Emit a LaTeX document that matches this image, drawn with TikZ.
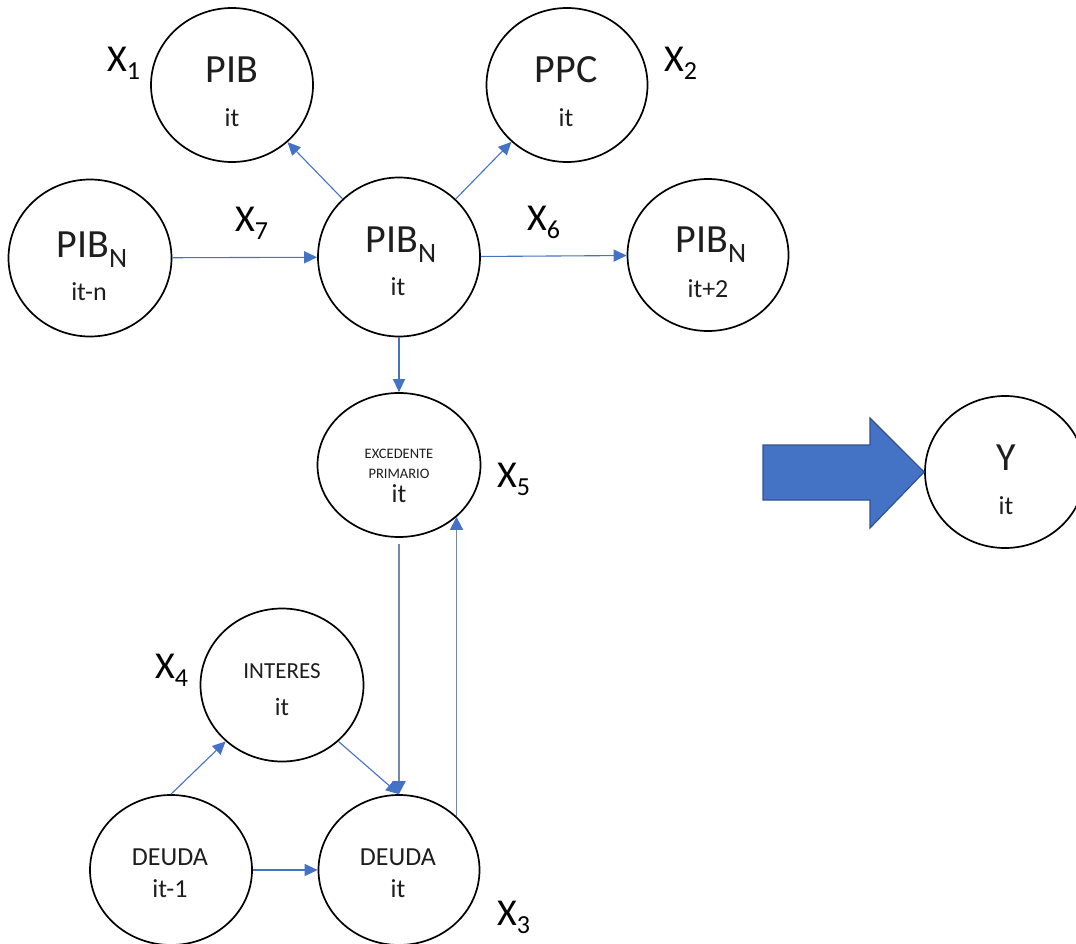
\documentclass[tikz,border=0pt]{standalone}
\usepackage{fontspec}
\setmainfont{Carlito}
\usetikzlibrary{arrows.meta,calc,shapes.geometric}
\definecolor{linkblue}{RGB}{68,114,196}
\definecolor{linkgrey}{RGB}{120,136,172}
\definecolor{arrowedge}{RGB}{47,82,143}
\definecolor{ink}{RGB}{30,30,30}
\newcommand{\fs}[1]{\fontsize{#1}{#1}\selectfont}
\newcommand{\varx}[1]{X\raisebox{-8pt}{\fs{26}#1}}
\newcommand{\pibn}{PIB\raisebox{-10pt}{\fs{28}N}}
\tikzset{
  var/.style={draw=black, line width=1.7pt, ellipse, inner sep=0pt, fill=white},
  txt/.style={anchor=base, inner sep=0pt, text=ink},
  big/.style={txt, font=\fs{40}},
  sub/.style={txt, font=\fs{26}},
  mid/.style={txt, font=\fs{26}},
  tiny/.style={txt, font=\fs{14.5}},
  xlab/.style={anchor=base west, inner sep=0pt, text=black, font=\fs{38}},
  link/.style={draw=linkblue, line width=1.1pt, -{Triangle[length=13pt,width=12pt]}},
  glink/.style={draw=linkgrey, line width=1.9pt, -{Triangle[length=13pt,width=13pt,fill=linkblue,color=linkblue]}},
  fat/.style={fill=linkblue, draw=arrowedge, line width=1.2pt, line join=miter}
}
\begin{document}
\begin{tikzpicture}[x=1pt, y=-1pt]
\useasboundingbox (0,0) rectangle (1076,944);

% circles
\node[var, minimum width=162pt, minimum height=154pt] (pib)  at (232,85)  {};
\node[var, minimum width=161pt, minimum height=154pt] (ppc)  at (567,85)  {};
\node[var, minimum width=163pt, minimum height=157pt] (pnlag) at (90,258) {};
\node[var, minimum width=162pt, minimum height=159pt] (pn)   at (399,257) {};
\node[var, minimum width=161pt, minimum height=152pt] (pnld) at (708,255) {};
\node[var, minimum width=163pt, minimum height=144pt] (exc)  at (399,465) {};
\node[var, minimum width=160pt, minimum height=152pt] (yv)   at (1005,472) {};
\node[var, minimum width=163pt, minimum height=153pt] (int)  at (282,685) {};
\node[var, minimum width=162pt, minimum height=150pt] (dlag) at (171,870) {};
\node[var, minimum width=161pt, minimum height=150pt] (deu)  at (399,870) {};

% texts inside the circles
\node[big] (t-pib)   at (232,83)  {PIB};
\node[sub] (s-pib)   at (232,127) {it};
\node[big] (t-ppc)   at (566,83)  {PPC};
\node[sub] (s-ppc)   at (566,127) {it};
\node[big] (t-pnlag) at (92,257)  {\pibn};
\node[sub] (s-pnlag) at (89,300)  {it-n};
\node[big] (t-pn)    at (401,252) {\pibn};
\node[sub] (s-pn)    at (398,295) {it};
\node[big] (t-pnld)  at (711,252) {\pibn};
\node[sub] (s-pnld)  at (708,297) {it+2};
\node[tiny] (t-exc1) at (399,458) {EXCEDENTE};
\node[tiny] (t-exc2) at (399,478) {PRIMARIO};
\node[sub] (s-exc)   at (399,502) {it};
\node[big] (t-y)     at (1006,470) {Y};
\node[sub] (s-y)     at (1006,514) {it};
\node[txt, font=\fs{23}] (t-int) at (282,678) {INTERES};
\node[txt, font=\fs{25}] (s-int) at (282,715) {it};
\node[mid] (t-dlag)  at (170,865) {DEUDA};
\node[mid] (s-dlag)  at (170,897) {it-1};
\node[mid] (t-deu)   at (398,865) {DEUDA};
\node[mid] (s-deu)   at (398,897) {it};

% variable tags
\node[xlab] (x1) at (107,72)  {\varx{1}};
\node[xlab] (x2) at (664,72)  {\varx{2}};
\node[xlab] (x7) at (235,232) {\varx{7}};
\node[xlab] (x6) at (527,230) {\varx{6}};
\node[xlab] (x5) at (497,487) {\varx{5}};
\node[xlab] (x4) at (155,678) {\varx{4}};
\node[xlab] (x3) at (497,925) {\varx{3}};

% links
\draw[link] (pn) -- (pib);
\draw[link] (pn) -- (ppc);
\draw[link] (pnlag) -- (pn);
\draw[link] (pn) -- (pnld);
\draw[link] (pn) -- (exc);
\draw[glink, shorten <=6pt] (exc) -- (deu);
\draw[glink] (deu.43) -- (deu.43 |- exc.-42);
\draw[link] (int.-45) -- (deu.north);
\draw[link] (dlag.north) -- (int.-135);
\draw[link] (dlag) -- (deu);

% block arrow towards Y
\coordinate (tip) at (yv.west);
\draw[fat] (763,445) -- (870,445) -- (870,418) -- (tip) -- (870,528) -- (870,500) -- (763,500) -- cycle;
\end{tikzpicture}
\end{document}
